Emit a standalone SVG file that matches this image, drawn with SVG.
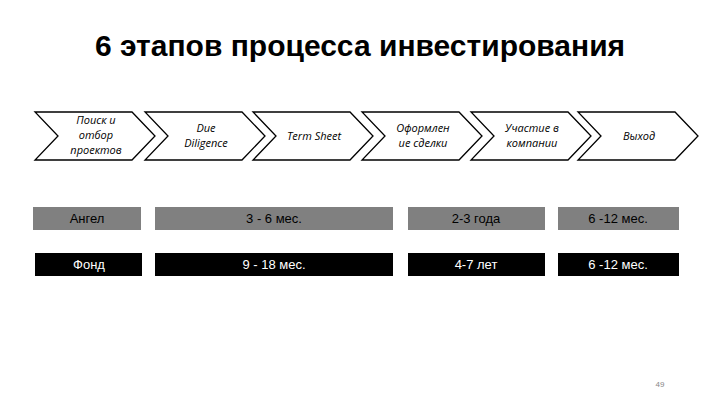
<svg xmlns="http://www.w3.org/2000/svg" width="720" height="405" viewBox="0 0 720 405">
<style>
.ch{fill:#fff;stroke:#000;stroke-width:1.3}
.ct{font-family:"Open Sans","DejaVu Sans",sans-serif;font-style:italic;font-size:11px;text-anchor:middle;fill:#000}
.g{fill:#808080}.b{fill:#000}
.bt{font-family:"Liberation Sans",Arial,sans-serif;font-size:13px;text-anchor:middle}
</style>
<rect width="720" height="405" fill="#fff"/>
<text x="360" y="56" font-family="Liberation Sans,Arial,sans-serif" font-size="30" font-weight="bold" text-anchor="middle">6 этапов процесса инвестирования</text>
<g id="n1"><path class="ch" d="M35,112 H132 L155,136 L132,160 H35 L58,136 Z"/><text class="ct" x="96" y="124">Поиск и</text><text class="ct" x="96" y="139">отбор</text><text class="ct" x="96" y="154">проектов</text></g>
<g id="n2"><path class="ch" d="M145,112 H242 L265,136 L242,160 H145 L168,136 Z"/><text class="ct" x="206" y="132">Due</text><text class="ct" x="206" y="147">Diligence</text></g>
<g id="n3"><path class="ch" d="M253,112 H350 L373,136 L350,160 H253 L276,136 Z"/><text class="ct" x="314" y="140">Term Sheet</text></g>
<g id="n4"><path class="ch" d="M362,112 H459 L482,136 L459,160 H362 L385,136 Z"/><text class="ct" x="423" y="132">Оформлен</text><text class="ct" x="423" y="147">ие сделки</text></g>
<g id="n5"><path class="ch" d="M471,112 H568 L591,136 L568,160 H471 L494,136 Z"/><text class="ct" x="532" y="132">Участие в</text><text class="ct" x="532" y="147">компании</text></g>
<g id="n6"><path class="ch" d="M578,112 H675 L698,136 L675,160 H578 L601,136 Z"/><text class="ct" x="639" y="140">Выход</text></g>
<g id="angel">
<rect class="g" x="33" y="207" width="108" height="23"/><text class="bt" x="87" y="223">Ангел</text>
<rect class="g" x="155" y="207" width="238" height="23"/><text class="bt" x="274" y="223">3 - 6 мес.</text>
<rect class="g" x="408" y="207" width="137" height="23"/><text class="bt" x="476" y="223">2-3 года</text>
<rect class="g" x="558" y="207" width="121" height="23"/><text class="bt" x="618" y="223">6 -12 мес.</text>
</g>
<g id="fond">
<rect class="b" x="35" y="253" width="107" height="23"/><text class="bt" x="89" y="269" fill="#fff">Фонд</text>
<rect class="b" x="155" y="253" width="238" height="23"/><text class="bt" x="274" y="269" fill="#fff">9 - 18 мес.</text>
<rect class="b" x="408" y="253" width="137" height="23"/><text class="bt" x="476" y="269" fill="#fff">4-7 лет</text>
<rect class="b" x="558" y="253" width="121" height="23"/><text class="bt" x="618" y="269" fill="#fff">6 -12 мес.</text>
</g>
<g id="edges"></g>
<text x="660" y="387" font-family="Liberation Sans,Arial,sans-serif" font-size="8" fill="#888" text-anchor="middle">49</text>
</svg>
